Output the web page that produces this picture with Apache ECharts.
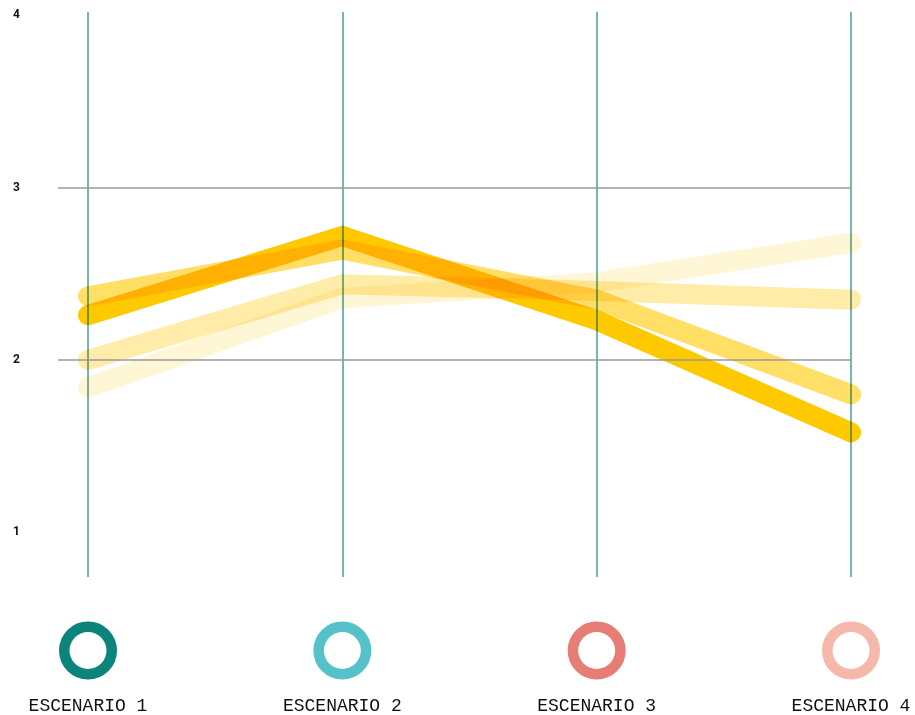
<!DOCTYPE html>
<html>
<head>
<meta charset="utf-8">
<script src="https://cdn.jsdelivr.net/npm/echarts@6/dist/echarts.min.js"></script>
<style>
  html, body { margin: 0; padding: 0; background: #fff; }
  #chart { width: 915px; height: 715px; }
</style>
</head>
<body>
<div id="chart"></div>
<script>
// escenarios (eje x)
const categories = ['ESCENARIO 1', 'ESCENARIO 2', 'ESCENARIO 3', 'ESCENARIO 4'];
const ringColors = ['#0b857b', '#55c2ca', '#e67e76', '#f7b8ac'];

// valores
const serieA = [2.26, 2.72, 2.23, 1.58];
const serieB = [2.37, 2.64, 2.35, 1.80];
const serieC = [2.00, 2.44, 2.40, 2.35];
const serieD = [1.84, 2.36, 2.45, 2.68];

const yTicks = [1, 2, 3, 4];
const gridValues = [2, 3];

const lineColor = '#ffc900';

function makeLine(name, data, opacity) {
  return {
    name: name,
    type: 'line',
    data: data,
    xAxisIndex: 0,
    yAxisIndex: 0,
    symbol: 'none',
    clip: false,
    silent: true,
    blendMode: 'multiply',
    lineStyle: {
      color: lineColor,
      width: 20,
      opacity: opacity,
      cap: 'round',
      join: 'miter'
    }
  };
}

const rich = {
  txt: {
    fontFamily: '"Liberation Mono", "DejaVu Sans Mono", monospace',
    fontSize: 18,
    color: '#111',
    lineHeight: 20,
    padding: [54, 0, 0, 0]
  }
};
ringColors.forEach((c, i) => {
  rich['ring' + i] = {
    width: 37,
    height: 37,
    borderRadius: 19,
    borderWidth: 10.5,
    borderColor: c,
    backgroundColor: '#fff'
  };
});

const option = {
  backgroundColor: '#fff',
  animation: false,
  grid: [
    { left: 88, right: 64, top: 12, bottom: 138 },
    { left: 58, right: 64, top: 12, bottom: 138 }
  ],
  xAxis: [
    {
      type: 'category',
      gridIndex: 0,
      data: categories,
      boundaryGap: false,
      axisLine: { show: false },
      axisTick: { show: false },
      splitLine: { show: true, lineStyle: { color: '#4a9e94', width: 1.5 } },
      axisLabel: {
        interval: 0,
        margin: 55,
        formatter: function (value, idx) {
          return '{ring' + idx + '|}\n{txt|' + value + '}';
        },
        rich: rich
      }
    },
    {
      type: 'value',
      gridIndex: 1,
      min: 0,
      max: 1,
      show: false
    }
  ],
  yAxis: [
    {
      type: 'value',
      gridIndex: 0,
      min: 0.74,
      max: 4.02,
      show: false
    },
    {
      type: 'value',
      gridIndex: 1,
      min: 0.74,
      max: 4.02,
      axisLine: { show: false },
      axisTick: { show: false },
      splitLine: { show: false },
      axisLabel: {
        customValues: yTicks,
        margin: 38,
        color: '#111',
        fontSize: 12,
        fontWeight: 'bold',
        fontFamily: 'Roboto, sans-serif'
      }
    }
  ],
  series: [
    {
      type: 'line',
      xAxisIndex: 1,
      yAxisIndex: 1,
      data: [],
      silent: true,
      markLine: {
        silent: true,
        symbol: 'none',
        label: { show: false },
        lineStyle: { color: '#9a9a9a', width: 1.5, type: 'solid' },
        data: gridValues.map(v => ({ yAxis: v }))
      }
    },
    makeLine('D', serieD, 0.16),
    makeLine('C', serieC, 0.34),
    makeLine('B', serieB, 0.6),
    makeLine('A', serieA, 1)
  ]
};

const myChart = echarts.init(document.getElementById('chart'));
myChart.setOption(option);
</script>
</body>
</html>
